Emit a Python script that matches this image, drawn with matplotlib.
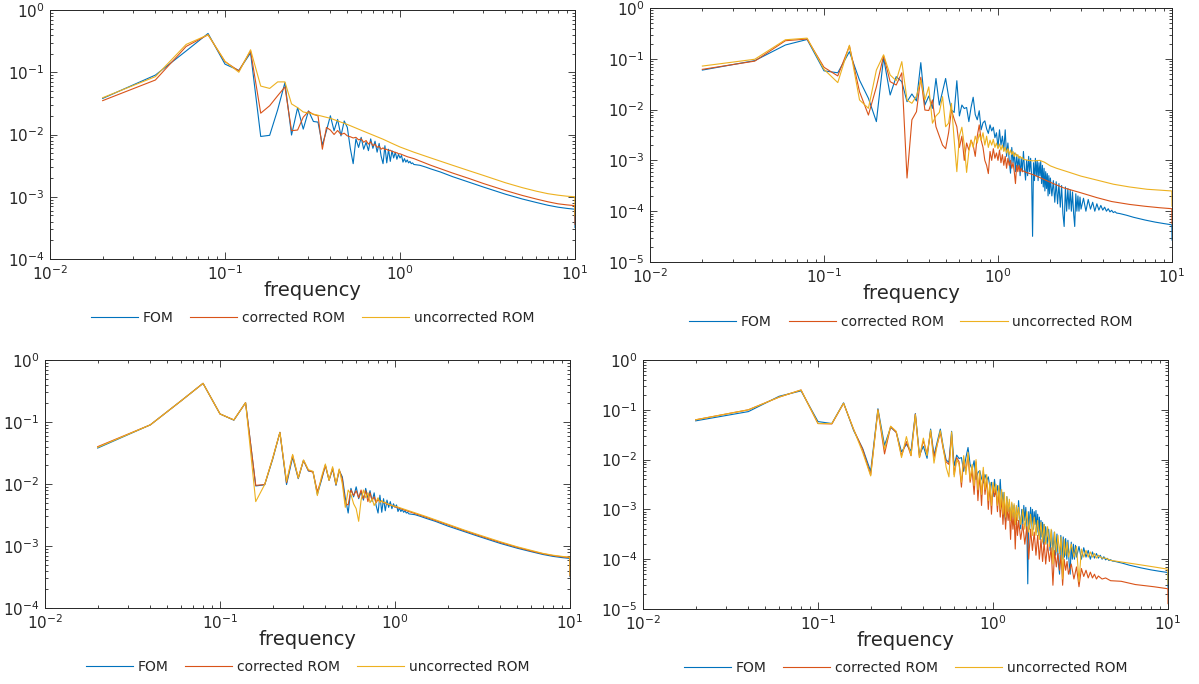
import numpy as np
import matplotlib
matplotlib.use("Agg")
import matplotlib.pyplot as plt
from matplotlib.ticker import LogLocator, NullFormatter

# ---------------- data ----------------
FREQ_STEP = 0.02  # sampling step of the spectra

# FOM spectrum used in the left column panels (grid 0.02 .. 1.20)
fomA_low = [0.038, 0.090, 0.22, 0.42, 0.135, 0.107, 0.205, 0.0093, 0.0097, 0.025,
            0.068, 0.0098, 0.027, 0.0122, 0.024, 0.0162, 0.0158, 0.0068, 0.0115, 0.0200,
            0.0115, 0.0175, 0.0095, 0.0165, 0.0130, 0.0060, 0.0034, 0.0085, 0.0062, 0.0090,
            0.0058, 0.0075, 0.0055, 0.0085, 0.0060, 0.0078, 0.0052, 0.0072, 0.0045, 0.0034,
            0.0066, 0.0035, 0.0058, 0.0037, 0.0055, 0.0042, 0.0052, 0.0040, 0.0048, 0.0042,
            0.0046, 0.0036, 0.0041, 0.0036, 0.0039, 0.0035, 0.0037, 0.0034, 0.0035, 0.0033]
fomA_tail_f = [1.3, 1.4, 1.5, 1.7, 2.0, 2.5, 3, 4, 5, 6, 7, 8, 9, 9.98, 10]
fomA_tail_v = [0.0032, 0.0030, 0.0028, 0.0025, 0.0021, 0.0017, 0.00143, 0.00110, 0.00092,
               0.00081, 0.00073, 0.00068, 0.00065, 0.00063, 0.00032]

# panel 1: corrected / uncorrected ROM
p1_cor_low = [0.035, 0.075, 0.26, 0.40, 0.148, 0.105, 0.22, 0.022, 0.029, 0.042,
              0.058, 0.0115, 0.0118, 0.019, 0.0235, 0.021, 0.020, 0.0058, 0.0130, 0.0118,
              0.0100, 0.0116, 0.0100, 0.0105, 0.0095, 0.0092, 0.0088, 0.0090, 0.0082, 0.0085,
              0.0075, 0.0080, 0.0070, 0.0076, 0.0066, 0.0070, 0.0062, 0.0065, 0.0058, 0.0061,
              0.0057, 0.0058, 0.0055, 0.0056, 0.0053, 0.0053, 0.0051, 0.0051, 0.0049, 0.0049]
p1_cor_tail_f = [1.1, 1.2, 1.5, 2, 2.5, 3, 4, 5, 6, 7, 8, 9, 9.98, 10]
p1_cor_tail_v = [0.0044, 0.0041, 0.0032, 0.0024, 0.00195, 0.00163, 0.00126, 0.00105,
                 0.00092, 0.00083, 0.00077, 0.00074, 0.00072, 0.00036]
p1_unc_low = [0.039, 0.085, 0.28, 0.40, 0.150, 0.100, 0.23, 0.060, 0.055, 0.070,
              0.070, 0.031, 0.027, 0.023, 0.0222]
p1_unc_tail_f = [0.35, 0.4, 0.5, 0.6, 0.7, 0.8, 0.9, 1.0, 1.2, 1.5, 2, 2.5, 3, 4, 5, 6, 7,
                 8, 9, 9.98, 10]
p1_unc_tail_v = [0.0200, 0.0182, 0.0145, 0.0117, 0.0098, 0.0084, 0.0072, 0.0063, 0.0052,
                 0.0042, 0.0032, 0.0026, 0.0022, 0.00168, 0.00140, 0.00123, 0.00112,
                 0.00106, 0.00102, 0.00100, 0.00050]

# panel 3: corrected / uncorrected ROM
p3_cor_low = [0.040, 0.090, 0.22, 0.42, 0.135, 0.108, 0.205, 0.0095, 0.0098, 0.026,
              0.068, 0.0105, 0.029, 0.0125, 0.024, 0.0165, 0.0155, 0.0075, 0.012, 0.020,
              0.0115, 0.0180, 0.0098, 0.0170, 0.0120, 0.0048, 0.0046, 0.0080, 0.0065, 0.0078,
              0.0060, 0.0080, 0.0058, 0.0078, 0.0052, 0.0072, 0.0055, 0.0062, 0.0050, 0.0056,
              0.0052, 0.0053, 0.0050, 0.0050, 0.0047, 0.0047, 0.0046, 0.0045, 0.0044, 0.0043]
p3_cor_tail_f = [1.2, 1.5, 2, 2.5, 3, 4, 5, 6, 7, 8, 9, 9.98, 10]
p3_cor_tail_v = [0.0036, 0.00292, 0.0022, 0.00176, 0.00148, 0.00114, 0.00095, 0.00083,
                 0.00075, 0.00070, 0.00067, 0.00065, 0.00033]
p3_unc_low = [0.039, 0.090, 0.22, 0.42, 0.135, 0.108, 0.205, 0.0052, 0.0098, 0.026,
              0.068, 0.0110, 0.030, 0.0125, 0.0245, 0.017, 0.016, 0.0065, 0.013, 0.021,
              0.0115, 0.0190, 0.0100, 0.0175, 0.0100, 0.0042, 0.0080, 0.0068, 0.0048, 0.0040,
              0.0025, 0.0055, 0.0080, 0.0060, 0.0072, 0.0050, 0.0058, 0.0045, 0.0052, 0.0060,
              0.0050, 0.0054, 0.0050, 0.0051, 0.0048, 0.0047, 0.0046, 0.0045, 0.0044, 0.0044]
p3_unc_tail_f = [1.2, 1.5, 2, 2.5, 3, 4, 5, 6, 7, 8, 9, 9.98, 10]
p3_unc_tail_v = [0.0037, 0.0030, 0.00225, 0.0018, 0.00152, 0.00117, 0.00097, 0.00085,
                 0.00076, 0.00071, 0.00068, 0.00066, 0.00034]

# FOM spectrum used in the right column panels (grid 0.02 .. 2.00)
fomB_low = [0.060, 0.092, 0.187, 0.240, 0.058, 0.053, 0.138, 0.038, 0.0167, 0.0058,
            0.105, 0.0194, 0.0445, 0.0355, 0.0143, 0.0203, 0.0148, 0.084, 0.0123, 0.0185,
            0.0106, 0.041, 0.0123, 0.0225, 0.041, 0.018, 0.0098, 0.0088, 0.037, 0.0075,
            0.0123, 0.0105, 0.0110, 0.0058, 0.0110, 0.0175, 0.0080, 0.0063, 0.0095, 0.0040,
            0.0055, 0.0060, 0.0042, 0.0034, 0.0050, 0.0038, 0.0045, 0.0028, 0.0035, 0.0018,
            0.0040, 0.0020, 0.0030, 0.0016, 0.0040, 0.0012, 0.0022, 0.0010, 0.00056, 0.0018,
            0.0009, 0.0014, 0.0006, 0.0013, 0.0007, 0.0012, 0.0005, 0.0011, 0.0006, 0.0015,
            0.0007, 0.00041, 0.0010, 0.0005, 0.0012, 0.0006, 0.0011, 0.0005, 0.000032, 0.0009,
            0.0004, 0.0011, 0.0005, 0.0010, 0.0004, 0.0009, 0.0005, 0.00095, 0.00035, 0.0008,
            0.0003, 0.0007, 0.00025, 0.0006, 0.00028, 0.00055, 0.0002, 0.0005, 0.00022, 0.00045]
fomB_tail_f = [2.04, 2.08, 2.12, 2.16, 2.20, 2.24, 2.28, 2.32, 2.36, 2.40, 2.44, 2.48,
               2.52, 2.56, 2.60, 2.64, 2.68, 2.72, 2.76, 2.80, 2.84, 2.88, 2.92, 2.96, 3.00,
               3.1, 3.2, 3.3, 3.4, 3.5, 3.6, 3.7, 3.8, 3.9, 4.0, 4.1, 4.2, 4.3, 4.4, 4.5,
               4.6, 4.7, 4.8, 5.0, 5.5, 6, 7, 8, 9, 9.98, 10]
fomB_tail_v = [0.00020, 0.00040, 0.00015, 0.00038, 0.00014, 0.00035, 0.00012, 0.00032,
               0.00009, 0.00005, 0.00030, 0.00010, 0.00028, 0.00011, 0.00026, 0.00010,
               0.00024, 0.00009, 0.00005, 0.00022, 0.00010, 0.00020, 0.00010, 0.00019,
               0.00011, 0.00018, 0.00010, 0.00017, 0.00011, 0.00015, 0.00010, 0.00014,
               0.000105, 0.00013, 0.000105, 0.00012, 0.000100, 0.000112, 0.000097,
               0.000104, 0.000094, 0.000098, 0.000092, 0.000090, 0.000083, 0.000076,
               0.000067, 0.000061, 0.000057, 0.000054, 0.000027]

# panel 2: corrected / uncorrected ROM (grid 0.02 .. 1.40)
p2_cor_low = [0.062, 0.090, 0.227, 0.245, 0.068, 0.046, 0.179, 0.0225, 0.0078, 0.028,
              0.115, 0.0355, 0.0305, 0.053, 0.00045, 0.0063, 0.0091, 0.0433, 0.0098, 0.0096,
              0.0155, 0.0046, 0.0030, 0.0020, 0.0017, 0.0035, 0.0098, 0.0065, 0.0046, 0.0018,
              0.0030, 0.0010, 0.0022, 0.0016, 0.0025, 0.0020, 0.0012, 0.0030, 0.0050, 0.0025,
              0.0018, 0.0010, 0.0008, 0.00055, 0.0015, 0.0010, 0.0017, 0.0011, 0.0014, 0.0010,
              0.0016, 0.0009, 0.0013, 0.0008, 0.0012, 0.0007, 0.0011, 0.0008, 0.0010, 0.0007,
              0.0009, 0.0006, 0.00035, 0.0008, 0.0006, 0.0008, 0.0006, 0.0007, 0.0006, 0.00062]
p2_cor_tail_f = [1.45, 1.5, 1.6, 1.74, 2.0, 2.37, 3.0, 3.7, 4.5, 5.7, 7, 8.5, 9.98, 10]
p2_cor_tail_v = [0.00058, 0.00056, 0.00052, 0.00046, 0.00037, 0.00029, 0.00023, 0.000185,
                 0.000155, 0.000136, 0.000125, 0.000117, 0.000112, 0.000056]
p2_unc_low = [0.072, 0.098, 0.237, 0.255, 0.062, 0.034, 0.185, 0.0155, 0.0106, 0.060,
              0.120, 0.048, 0.037, 0.088, 0.0155, 0.0133, 0.0185, 0.038, 0.0155, 0.028,
              0.0054, 0.0075, 0.0088, 0.018, 0.0046, 0.0054, 0.0133, 0.0025, 0.00060, 0.0030,
              0.0045, 0.0020, 0.00058, 0.0015, 0.0025, 0.0018, 0.0030, 0.0022, 0.0033, 0.0025,
              0.0035, 0.0020, 0.0030, 0.0018, 0.0025, 0.0020, 0.0026, 0.0018, 0.0022, 0.0017,
              0.0021, 0.0016, 0.0020, 0.0015, 0.0018, 0.0014, 0.0017, 0.0013, 0.0016, 0.0013,
              0.0015, 0.0012, 0.0014, 0.0012, 0.0013, 0.0011, 0.0012, 0.0011, 0.00115, 0.00105]
p2_unc_tail_f = [1.5, 1.6, 1.74, 1.85, 2.0, 2.17, 2.5, 3.0, 3.7, 4.6, 5.7, 7.2, 8.5, 9.98, 10]
p2_unc_tail_v = [0.00100, 0.00098, 0.00100, 0.00092, 0.00078, 0.00070, 0.00060, 0.00049,
                 0.00041, 0.00034, 0.00030, 0.00027, 0.00026, 0.00025, 0.000125]

# panel 4: corrected / uncorrected ROM (grid 0.02 .. 1.40, then shared tail frequencies)
p4_cor_low = [0.063, 0.100, 0.18, 0.25, 0.053, 0.052, 0.135, 0.040, 0.016, 0.0049,
              0.100, 0.013, 0.046, 0.035, 0.012, 0.023, 0.012, 0.082, 0.011, 0.024,
              0.013, 0.036, 0.011, 0.020, 0.035, 0.016, 0.0090, 0.0080, 0.032, 0.0050,
              0.0110, 0.0090, 0.0028, 0.0100, 0.0060, 0.0120, 0.0035, 0.0060, 0.0020, 0.0090,
              0.0015, 0.0050, 0.0012, 0.0060, 0.0020, 0.0040, 0.0010, 0.0030, 0.0008, 0.0030,
              0.0018, 0.0025, 0.0009, 0.0022, 0.0007, 0.0018, 0.0005, 0.0015, 0.0004, 0.0012,
              0.0006, 0.0010, 0.00025, 0.0009, 0.0004, 0.0008, 0.00016, 0.0007, 0.0003, 0.0006]
p4_tail_f = [1.44, 1.48, 1.52, 1.56, 1.60, 1.64, 1.68, 1.72, 1.76, 1.80, 1.84, 1.88, 1.92,
             1.96, 2.00, 2.05, 2.10, 2.15, 2.20, 2.25, 2.30, 2.35, 2.40, 2.45, 2.50, 2.55,
             2.60, 2.65, 2.70, 2.80, 2.90, 3.00, 3.1, 3.2, 3.3, 3.4, 3.5, 3.6, 3.7, 3.8,
             3.9, 4.0, 4.2, 4.4, 4.7, 5.4, 6.5, 8.3, 9.98, 10]
p4_cor_tail_v = [0.00025, 0.0005, 0.0002, 0.00045, 0.00010, 0.0004, 0.00015, 0.00035,
                 0.00012, 0.0003, 0.00010, 0.00025, 0.00009, 0.00022, 0.00008,
                 0.0002, 0.00009, 0.00017, 0.00003, 0.00015, 0.00007, 0.00013, 0.00006,
                 0.00012, 0.00003, 0.00010, 0.00006, 0.00009, 0.00005,
                 0.00008, 0.00004, 0.00007,
                 0.000028, 0.000065, 0.000045, 0.00006, 0.000042, 0.000055, 0.000042,
                 0.00005, 0.00004, 0.000046,
                 0.00004, 0.000042, 0.000037, 0.000036, 0.000031, 0.000028, 0.0000255,
                 0.0000128]
p4_unc_low = [0.063, 0.100, 0.18, 0.25, 0.053, 0.053, 0.135, 0.040, 0.014, 0.0047,
              0.100, 0.016, 0.047, 0.037, 0.011, 0.029, 0.012, 0.080, 0.011, 0.027,
              0.012, 0.039, 0.0085, 0.020, 0.038, 0.017, 0.0070, 0.0045, 0.036, 0.0045,
              0.010, 0.008, 0.0035, 0.012, 0.005, 0.014, 0.004, 0.008, 0.003, 0.010,
              0.0025, 0.006, 0.002, 0.007, 0.0025, 0.005, 0.0015, 0.0035, 0.0012, 0.0035,
              0.0022, 0.0032, 0.0012, 0.003, 0.001, 0.0025, 0.0008, 0.0022, 0.0007, 0.0018,
              0.0009, 0.0016, 0.0006, 0.0014, 0.0007, 0.0013, 0.0005, 0.0012, 0.0006, 0.0011]
p4_unc_tail_v = [0.0005, 0.0010, 0.0004, 0.0009, 0.00035, 0.0008, 0.0003, 0.0007, 0.0003,
                 0.0006, 0.00025, 0.00055, 0.00022, 0.0005, 0.0002,
                 0.00045, 0.00018, 0.0004, 0.00008, 0.00035, 0.00014, 0.0003, 0.00013,
                 0.00028, 0.00004, 0.00025, 0.00012, 0.00022, 0.00011,
                 0.0002, 0.00011, 0.00018,
                 0.000035, 0.00016, 0.00011, 0.00015, 0.00011, 0.00014, 0.00011, 0.00013,
                 0.000105, 0.00012,
                 0.000105, 0.000105, 0.000095, 0.000088, 0.00008, 0.00007, 0.000063,
                 0.0000315]

legend_labels = ["FOM", "corrected ROM", "uncorrected ROM"]
x_label = "frequency"
colors = ["#0072BD", "#D95319", "#EDB120"]


def series(low, tail_f, tail_v):
    grid = np.round(FREQ_STEP * np.arange(1, len(low) + 1), 4)
    return np.concatenate([grid, tail_f]), np.concatenate([low, tail_v])


panels = [
    [series(fomA_low, fomA_tail_f, fomA_tail_v),
     series(p1_cor_low, p1_cor_tail_f, p1_cor_tail_v),
     series(p1_unc_low, p1_unc_tail_f, p1_unc_tail_v)],
    [series(fomB_low, fomB_tail_f, fomB_tail_v),
     series(p2_cor_low, p2_cor_tail_f, p2_cor_tail_v),
     series(p2_unc_low, p2_unc_tail_f, p2_unc_tail_v)],
    [series(fomA_low, fomA_tail_f, fomA_tail_v),
     series(p3_cor_low, p3_cor_tail_f, p3_cor_tail_v),
     series(p3_unc_low, p3_unc_tail_f, p3_unc_tail_v)],
    [series(fomB_low, fomB_tail_f, fomB_tail_v),
     series(p4_cor_low, p4_tail_f, p4_cor_tail_v),
     series(p4_unc_low, p4_tail_f, p4_unc_tail_v)],
]
ylims = [(1e-4, 1), (1e-5, 1), (1e-4, 1), (1e-5, 1)]

# ---------------- figure ----------------
W, H = 1199, 684
plt.rcParams["font.family"] = ["DejaVu Sans"]
plt.rcParams["mathtext.default"] = "regular"
fig = plt.figure(figsize=(W / 100, H / 100), dpi=100)

rects_px = [(50, 10, 575, 259), (650, 8, 1172, 262), (45, 360, 570, 608), (643, 360, 1168, 609)]
axcol = "#262626"

for (l, t, r, b), data, yl in zip(rects_px, panels, ylims):
    ax = fig.add_axes([l / W, 1 - b / H, (r - l) / W, (b - t) / H])
    handles = []
    for (fx, fy), c, lab in zip(data, colors, legend_labels):
        h, = ax.plot(fx, fy, color=c, lw=0.8, label=lab)
        handles.append(h)
    ax.set_xscale("log")
    ax.set_yscale("log")
    ax.set_xlim(1e-2, 10)
    ax.set_ylim(*yl)
    ax.xaxis.set_major_locator(LogLocator(base=10, numticks=10))
    ax.yaxis.set_major_locator(LogLocator(base=10, numticks=10))
    ax.xaxis.set_minor_locator(LogLocator(base=10, subs=np.arange(2, 10), numticks=20))
    ax.yaxis.set_minor_locator(LogLocator(base=10, subs=np.arange(2, 10), numticks=20))
    ax.xaxis.set_minor_formatter(NullFormatter())
    ax.yaxis.set_minor_formatter(NullFormatter())
    ax.tick_params(which="both", direction="in", top=True, right=True, colors=axcol,
                   labelcolor=axcol, width=0.6)
    ax.tick_params(which="major", length=5, labelsize=11, pad=4)
    ax.tick_params(which="minor", length=2.5)
    for s in ax.spines.values():
        s.set_color(axcol)
        s.set_linewidth(0.7)
    ax.set_xlabel(x_label, fontsize=14, color=axcol)
    ax.xaxis.set_label_coords(0.5, -0.088)
    ax.xaxis.label.set_va("top")
    ax.legend(handles=handles, loc="center", bbox_to_anchor=(0.5, -0.237), ncol=3,
              frameon=False, fontsize=10, handlelength=3.4, handletextpad=0.35,
              columnspacing=1.2, labelcolor=axcol)

fig.savefig("out.png", dpi=100)
